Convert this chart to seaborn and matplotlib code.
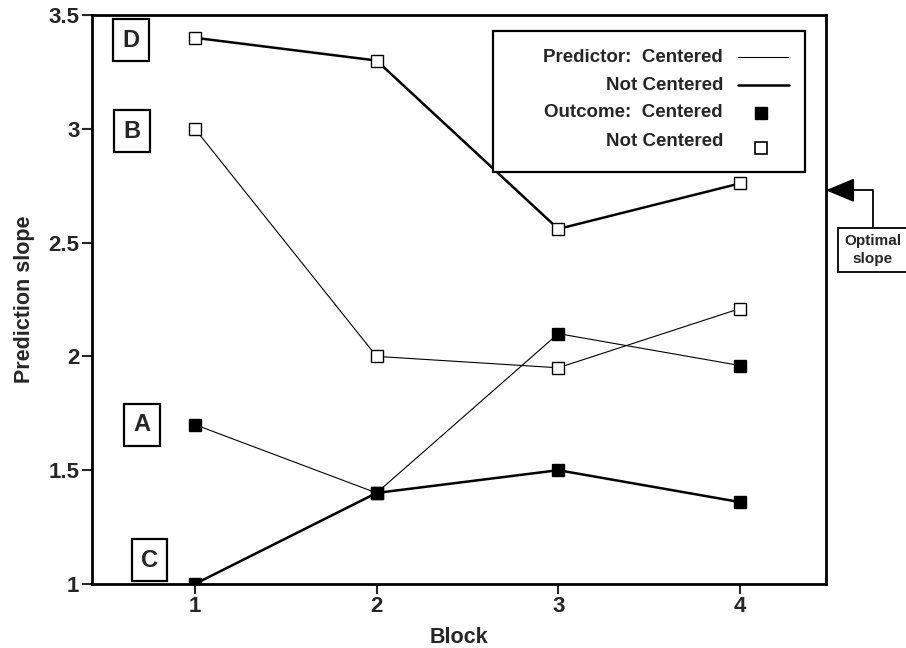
import numpy as np
import pandas as pd
import matplotlib
matplotlib.use('Agg')
import matplotlib.pyplot as plt
import seaborn as sns
from matplotlib.patches import Rectangle
from matplotlib.transforms import blended_transform_factory

# Data
blocks = [1, 2, 3, 4]
slope_a = [1.70, 1.40, 2.10, 1.96]   # predictor centered, outcome centered
slope_b = [3.00, 2.00, 1.95, 2.21]   # predictor centered, outcome not centered
slope_c = [1.00, 1.40, 1.50, 1.36]   # predictor not centered, outcome centered
slope_d = [3.40, 3.30, 2.56, 2.76]   # predictor not centered, outcome not centered
series_names = ['A', 'B', 'C', 'D']
optimal_slope = 2.73
y_ticks = [1, 1.5, 2, 2.5, 3, 3.5]
y_tick_labels = ['1', '1.5', '2', '2.5', '3', '3.5']
legend_labels = ['Predictor:  Centered', 'Not Centered', 'Outcome:  Centered', 'Not Centered']

df = pd.DataFrame({
    'block': blocks * 4,
    'slope': slope_a + slope_b + slope_c + slope_d,
    'series': np.repeat(series_names, len(blocks)),
})

# line width by predictor centering, marker fill by outcome centering
THIN, THICK = 0.8, 1.8
styles = {
    'A': dict(lw=THIN, fill='black'),
    'B': dict(lw=THIN, fill='white'),
    'C': dict(lw=THICK, fill='black'),
    'D': dict(lw=THICK, fill='white'),
}
# label boxes next to the first point of each series
label_pos = {'D': (0.65, 3.39), 'B': (0.655, 2.99), 'A': (0.71, 1.70), 'C': (0.75, 1.105)}

sns.set_style('ticks')
plt.rcParams['font.family'] = ['Liberation Sans', 'DejaVu Sans']

fig = plt.figure(figsize=(9.06, 6.48), dpi=100)
ax = fig.add_axes([0.1015, 0.0988, 0.81, 0.878])

for name in series_names:
    sub = df[df['series'] == name]
    st = styles[name]
    sns.lineplot(data=sub, x='block', y='slope', ax=ax, color='black',
                 linewidth=st['lw'], marker='s', markersize=9,
                 markerfacecolor=st['fill'], markeredgecolor='black',
                 markeredgewidth=1.0, legend=False)

for name, (lx, ly) in label_pos.items():
    ax.text(lx, ly, name, ha='center', va='center', fontsize=17, fontweight='bold',
            bbox=dict(boxstyle='square,pad=0.4', fc='white', ec='black', lw=1.6))

ax.set_xlim(0.433, 4.473)
ax.set_ylim(1, 3.5)
ax.set_xticks(blocks)
ax.set_xticklabels([str(b) for b in blocks])
ax.set_yticks(y_ticks)
ax.set_yticklabels(y_tick_labels)
ax.tick_params(axis='both', direction='out', length=7, width=1.5, labelsize=16, pad=2)
for lab in ax.get_xticklabels() + ax.get_yticklabels():
    lab.set_fontweight('bold')
ax.set_xlabel('Block', fontsize=15.5, fontweight='bold', labelpad=7)
ax.set_ylabel('Prediction slope', fontsize=15.5, fontweight='bold', labelpad=10)
for sp in ax.spines.values():
    sp.set_visible(True)
    sp.set_linewidth(2)
    sp.set_color('black')

# legend box drawn by hand (text right aligned as in the original)
ax.add_patch(Rectangle((0.546, 0.724), 0.425, 0.248, transform=ax.transAxes,
                       fc='white', ec='black', lw=1.6, zorder=5))
row_y = [0.926, 0.877, 0.828, 0.777]
for lab, yy in zip(legend_labels, row_y):
    ax.text(0.860, yy, lab, transform=ax.transAxes, ha='right', va='center',
            fontsize=13.5, fontweight='bold', zorder=6)
ax.plot([0.881, 0.948], [row_y[0], row_y[0]], transform=ax.transAxes,
        color='black', lw=THIN, zorder=6)
ax.plot([0.881, 0.950], [row_y[1], row_y[1]], transform=ax.transAxes,
        color='black', lw=THICK, zorder=6)
ax.plot([0.911], [row_y[2]], transform=ax.transAxes, marker='s', markersize=9,
        color='black', zorder=6)
ax.plot([0.911], [row_y[3] - 0.01], transform=ax.transAxes, marker='s', markersize=9,
        markerfacecolor='white', markeredgecolor='black', markeredgewidth=1.2, zorder=6)

# optimal slope marker outside the right spine
trans = blended_transform_factory(ax.transAxes, ax.transData)
ax.annotate('Optimal\nslope', xy=(1.0, optimal_slope), xycoords=trans,
            xytext=(1.064, 0.587), textcoords='axes fraction',
            ha='center', va='center', fontsize=11, fontweight='bold', linespacing=1.35,
            bbox=dict(boxstyle='square,pad=0.4', fc='white', ec='black', lw=1.3),
            arrowprops=dict(arrowstyle='-|>,head_length=0.6,head_width=0.25',
                            mutation_scale=30, color='black', lw=1.3,
                            connectionstyle='angle,angleA=90,angleB=0,rad=0',
                            shrinkA=0, shrinkB=0),
            annotation_clip=False)

fig.savefig('out.png', dpi=100, facecolor='white')
